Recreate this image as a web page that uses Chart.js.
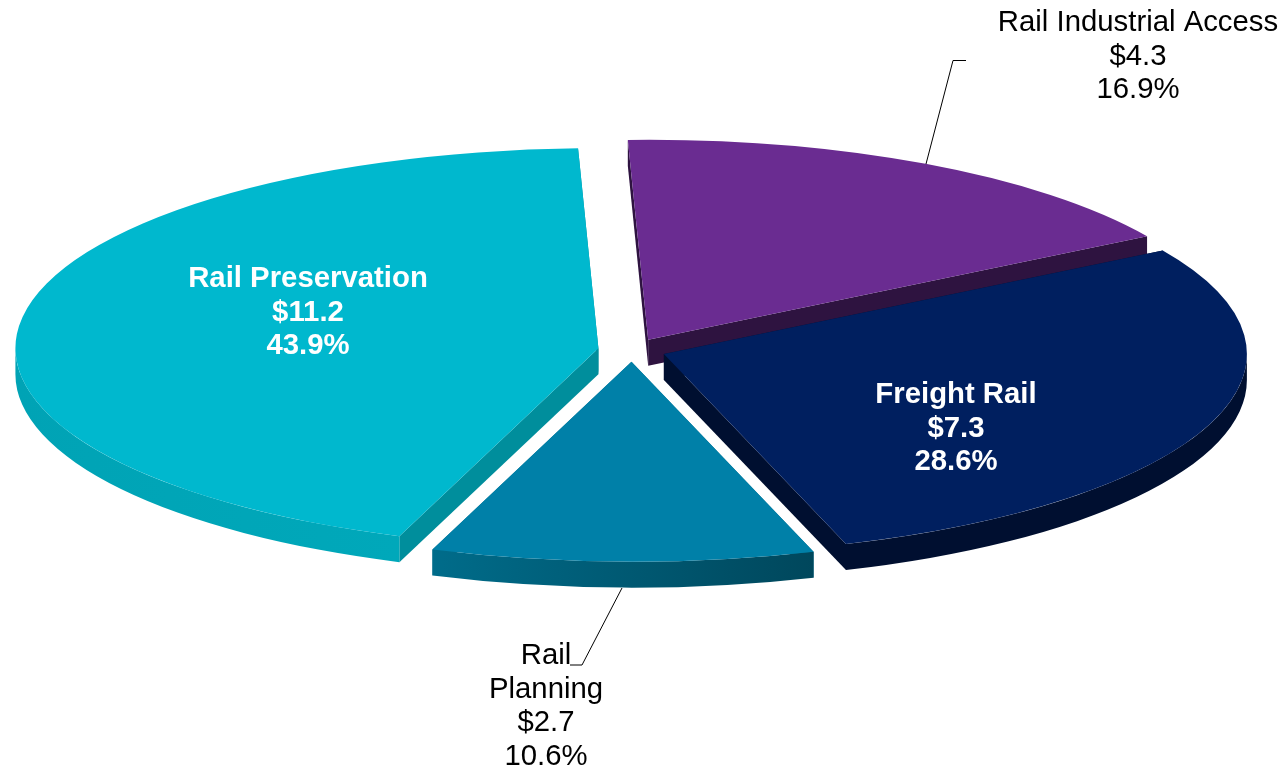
<!DOCTYPE html>
<html>
<head>
<meta charset="utf-8">
<style>
  html, body { margin: 0; padding: 0; background: #fff; }
  #wrap { width: 1284px; height: 767px; position: relative; overflow: hidden; }
</style>
<script src="https://cdn.jsdelivr.net/npm/chart.js@4"></script>
</head>
<body>
<div id="wrap"><canvas id="railChart" width="1284" height="767"></canvas></div>
<script>
// clockwise from 12 o'clock, same order as the original pie
const categories = ["Rail Industrial Access", "Freight Rail", "Rail Planning", "Rail Preservation"];
const amounts = [4.3, 7.3, 2.7, 11.2];
const shares = [16.9, 28.6, 10.6, 43.9];

const FACE_COLORS = ["#6A2C91", "#001F5F", "#0080A8", "#00B8CE"];
const CUT_COLORS = ["#2E1340", "#000F30", "#006A88", "#008E9C"];
const WALL_LEFT = ["#2E1340", "#000F30", "#006C8A", "#00A3B5"];
const WALL_RIGHT = ["#2E1340", "#000F30", "#00475C", "#00A8BA"];

const RADIUS = 583;
const TILT = 0.343;
const DEPTH = 26;
const EXPLODE = 34;
const DRAW_ORDER = [0, 3, 1, 2];

const FONT_SIZE = 29.33;
const LINE_HEIGHT = 33.6;

// text blocks: centre x, first baseline, colour, weight
const LABEL_LINES = [
  [categories[0]],
  [categories[1]],
  ["Rail", "Planning"],
  [categories[3]],
];
const LABEL_PLACES = [
  { x: 1138, y: 31, color: "#000", weight: "normal" },
  { x: 956, y: 403, color: "#fff", weight: "bold" },
  { x: 546, y: 664, color: "#000", weight: "normal" },
  { x: 308, y: 287, color: "#fff", weight: "bold" },
];
const LEADERS = [
  [[926, 164], [953, 60.5], [966, 60.5]],
  [[622, 588], [582, 665], [570, 665]],
];

function drawWalls(ctx, arc, i, ax, ay) {
  const a0 = arc.startAngle;
  const a1 = arc.endAngle;
  const ry = RADIUS * TILT;
  ctx.fillStyle = CUT_COLORS[i];
  for (const a of [a0, a1]) {
    const ex = ax + Math.cos(a) * RADIUS;
    const ey = ay + Math.sin(a) * ry;
    ctx.beginPath();
    ctx.moveTo(ax, ay);
    ctx.lineTo(ex, ey);
    ctx.lineTo(ex, ey + DEPTH);
    ctx.lineTo(ax, ay + DEPTH);
    ctx.closePath();
    ctx.fill();
  }
  // rounded outer wall, only the part that faces the viewer
  const from = Math.max(a0, 0);
  const to = Math.min(a1, Math.PI);
  if (to <= from) return;
  const x0 = ax + Math.cos(to) * RADIUS;
  const x1 = ax + Math.cos(from) * RADIUS;
  const grad = ctx.createLinearGradient(x0, 0, x1, 0);
  grad.addColorStop(0, WALL_LEFT[i]);
  grad.addColorStop(1, WALL_RIGHT[i]);
  ctx.fillStyle = grad;
  ctx.beginPath();
  ctx.ellipse(ax, ay, RADIUS, ry, 0, from, to);
  ctx.ellipse(ax, ay + DEPTH, RADIUS, ry, 0, to, from, true);
  ctx.closePath();
  ctx.fill();
}

// flattens the library's arcs into a tilted, exploded pie with a side wall
const tiltedPie = {
  id: "tiltedPie",
  beforeDatasetDraw(chart, args) {
    const ctx = chart.ctx;
    const arcs = args.meta.data;
    for (const i of DRAW_ORDER) {
      const arc = arcs[i];
      const mid = (arc.startAngle + arc.endAngle) / 2;
      const ax = arc.x + Math.cos(mid) * EXPLODE;
      const ay = arc.y + Math.sin(mid) * EXPLODE * TILT;
      drawWalls(ctx, arc, i, ax, ay);
      ctx.save();
      ctx.translate(ax, ay);
      ctx.scale(1, TILT);
      ctx.translate(-arc.x, -arc.y);
      arc.draw(ctx);
      ctx.restore();
    }
    return false;
  },
  afterDraw(chart) {
    const ctx = chart.ctx;
    ctx.save();
    ctx.strokeStyle = "#000";
    ctx.lineWidth = 1;
    for (const pts of LEADERS) {
      ctx.beginPath();
      pts.forEach((p, n) => (n ? ctx.lineTo(p[0], p[1]) : ctx.moveTo(p[0], p[1])));
      ctx.stroke();
    }
    ctx.textAlign = "center";
    ctx.textBaseline = "alphabetic";
    categories.forEach((name, i) => {
      const place = LABEL_PLACES[i];
      const lines = [...LABEL_LINES[i], "$" + amounts[i].toFixed(1), shares[i].toFixed(1) + "%"];
      ctx.font = place.weight + " " + FONT_SIZE + "px 'Liberation Sans', Arial, sans-serif";
      ctx.fillStyle = place.color;
      lines.forEach((line, n) => ctx.fillText(line, place.x, place.y + n * LINE_HEIGHT));
    });
    ctx.restore();
  },
};

new Chart(document.getElementById("railChart"), {
  type: "pie",
  data: {
    labels: categories,
    datasets: [
      {
        data: shares,
        backgroundColor: FACE_COLORS,
        borderWidth: 0,
        clip: false,
      },
    ],
  },
  options: {
    responsive: false,
    animation: false,
    rotation: -2,
    radius: RADIUS,
    layout: { padding: { right: 20, bottom: 67 } },
    events: [],
    plugins: {
      legend: { display: false },
      tooltip: { enabled: false },
    },
  },
  plugins: [tiltedPie],
});
</script>
</body>
</html>
